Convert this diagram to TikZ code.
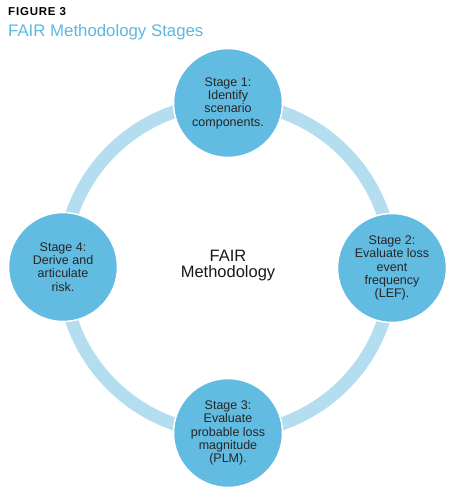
\documentclass[tikz,border=0pt]{standalone}
\usepackage{fontspec}
\setmainfont{Liberation Sans}
\usetikzlibrary{positioning}
\pgfdeclarelayer{bg}
\pgfsetlayers{bg,main}
\definecolor{stageblue}{HTML}{62BBE1}
\definecolor{ringblue}{HTML}{B5DDF0}
\definecolor{titleblue}{HTML}{5BB8E0}
\begin{document}
\begin{tikzpicture}[x=1pt, y=-1pt,
  stage/.style={circle, fill=stageblue, draw=white, line width=1.5pt,
    minimum size=109pt, inner sep=0pt, align=center, text=black!85,
    font=\fontsize{12.5}{13.3}\selectfont},
  ring/.style={draw=ringblue, line width=13pt}]
  \useasboundingbox (0,0) rectangle (450,490);
  % title
  \node[anchor=base west, inner sep=0pt,
    font=\bfseries\fontsize{11.5}{12}\selectfont\addfontfeatures{LetterSpace=7}] (fig) at (8,15) {FIGURE 3};
  \node[anchor=base west, inner sep=0pt, text=titleblue,
    font=\fontsize{16.8}{20}\selectfont] (title) at (8,36) {FAIR Methodology Stages};
  % stages
  \node[stage] (s1) at (228,103) {Stage 1:\\Identify\\scenario\\components.};
  \node[stage] (s2) at (392,268) {Stage 2:\\Evaluate loss\\event\\frequency\\(LEF).};
  \node[stage] (s3) at (228,433) {Stage 3:\\Evaluate\\probable loss\\magnitude\\(PLM).};
  \node[stage] (s4) at (63,267) {Stage 4:\\Derive and\\articulate\\risk.};
  \node[align=center, text=black!90, font=\fontsize{16.5}{16}\selectfont] (fair) at (228,266) {FAIR\\Methodology};
  \begin{pgfonlayer}{bg}
  \path[ring]
    (s1.center) edge[bend left=45] (s2.center)
    (s2.center) edge[bend left=45] (s3.center)
    (s3.center) edge[bend left=45] (s4.center)
    (s4.center) edge[bend left=45] (s1.center);
  \end{pgfonlayer}
\end{tikzpicture}
\end{document}
